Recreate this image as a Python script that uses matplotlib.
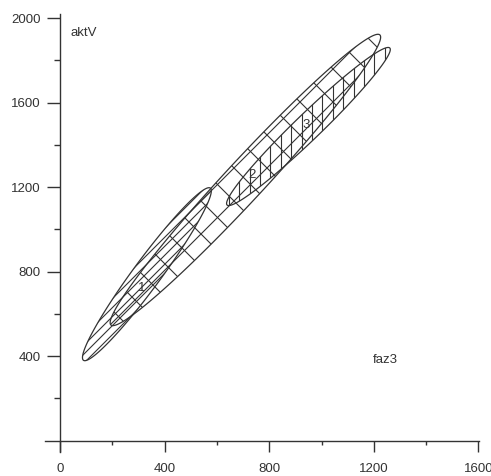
import numpy as np
import matplotlib
matplotlib.use('Agg')
import matplotlib.pyplot as plt
from matplotlib.patches import Polygon

plt.rcParams['font.family'] = ['Liberation Sans', 'DejaVu Sans']

# ---- data ----
x_ticks = [0, 400, 800, 1200, 1600]
x_minor = [200, 600, 1000, 1400]
y_ticks = [400, 800, 1200, 1600, 2000]
y_minor = [200, 600, 1000, 1400, 1800]

group_labels = ['1', '2', '3']
low_tip_x = [90, 195, 639]
low_tip_y = [380, 547, 1115]
up_tip_x = [575, 1223, 1261]
up_tip_y = [1195, 1920, 1858]
width_ratio = [0.13, 0.10, 0.115]
label_x = [314, 735, 941]
label_y = [722, 1257, 1494]
hatch_kind = ['/', 'x', '|']
hatch_step_px = [9, 33, 10.4]

y_title = 'aktV'
x_title = 'faz3'

INK = '#333333'
W, H, DPI = 491, 476, 100

fig = plt.figure(figsize=(W / DPI, H / DPI), dpi=DPI)
ax = fig.add_axes([45 / W, 24 / H, (479 - 45) / W, (462 - 24) / H])
ax.set_xlim(-57, 1602)
ax.set_ylim(-54, 2019)

for s in ['right', 'top']:
    ax.spines[s].set_visible(False)
for s in ['left', 'bottom']:
    ax.spines[s].set_position(('data', 0))
    ax.spines[s].set_color(INK)
    ax.spines[s].set_linewidth(1.0)

ax.set_xticks(x_ticks)
ax.set_xticklabels([str(v) for v in x_ticks])
ax.set_xticks(x_minor, minor=True)
ax.set_yticks(y_ticks)
ax.set_yticklabels([str(v) for v in y_ticks])
ax.set_yticks(y_minor, minor=True)
ax.tick_params(axis='x', which='major', length=7.9, width=1.0, color=INK,
               labelsize=9.5, labelcolor=INK, pad=8.5)
ax.tick_params(axis='x', which='minor', length=3.2, width=1.0, color=INK)
ax.tick_params(axis='y', which='major', length=9.6, width=1.0, color=INK,
               labelsize=9.5, labelcolor=INK, pad=4.5)
ax.tick_params(axis='y', which='minor', length=4.3, width=1.0, color=INK)

ax.text(42, 1929, y_title, fontsize=9.5, color=INK, ha='left', va='center')
ax.text(1198, 381, x_title, fontsize=9.5, color=INK, ha='left', va='center')

fig.canvas.draw()
to_disp = ax.transData.transform
to_data = ax.transData.inverted().transform


def hatch_lines(kind, step, xmin, xmax, ymin, ymax):
    segs = []
    if kind == '|':
        x0 = np.floor(xmin / step) * step
        for x in np.arange(x0, xmax + step, step):
            segs.append(((x, ymin), (x, ymax)))
    if kind in ('/', 'x'):
        phase = (6 - H) % step
        cmin, cmax = xmin - ymax, xmax - ymin
        c0 = np.floor((cmin - phase) / step) * step + phase
        for c in np.arange(c0, cmax + step, step):
            segs.append(((ymin + c, ymin), (ymax + c, ymax)))
    if kind == 'x':
        phase = (0 + H) % step
        cmin, cmax = xmin + ymin, xmax + ymax
        c0 = np.floor((cmin - phase) / step) * step + phase
        for c in np.arange(c0, cmax + step, step):
            segs.append(((c - ymin, ymin), (c - ymax, ymax)))
    return segs


t = np.linspace(0, 2 * np.pi, 400)
for i in range(len(group_labels)):
    p0 = to_disp((low_tip_x[i], low_tip_y[i]))
    p1 = to_disp((up_tip_x[i], up_tip_y[i]))
    c = (p0 + p1) / 2
    a = np.linalg.norm(p1 - p0) / 2
    u = (p1 - p0) / (2 * a)
    v = np.array([-u[1], u[0]])
    b = width_ratio[i] * a
    pts = c + np.outer(a * np.cos(t), u) + np.outer(b * np.sin(t), v)
    dpts = to_data(pts)
    poly = Polygon(dpts, closed=True, fill=False, edgecolor=INK, lw=0.9,
                   zorder=3)
    ax.add_patch(poly)
    xmin, ymin = pts.min(axis=0) - 2
    xmax, ymax = pts.max(axis=0) + 2
    for (q0, q1) in hatch_lines(hatch_kind[i], hatch_step_px[i], xmin, xmax, ymin, ymax):
        d = to_data(np.array([q0, q1]))
        ln, = ax.plot(d[:, 0], d[:, 1], color=INK, lw=0.8, zorder=2)
        ln.set_clip_path(poly)
    ax.text(label_x[i], label_y[i], group_labels[i], fontsize=9.5, color=INK,
            ha='center', va='center', zorder=4)

fig.savefig('out.png', dpi=DPI)
